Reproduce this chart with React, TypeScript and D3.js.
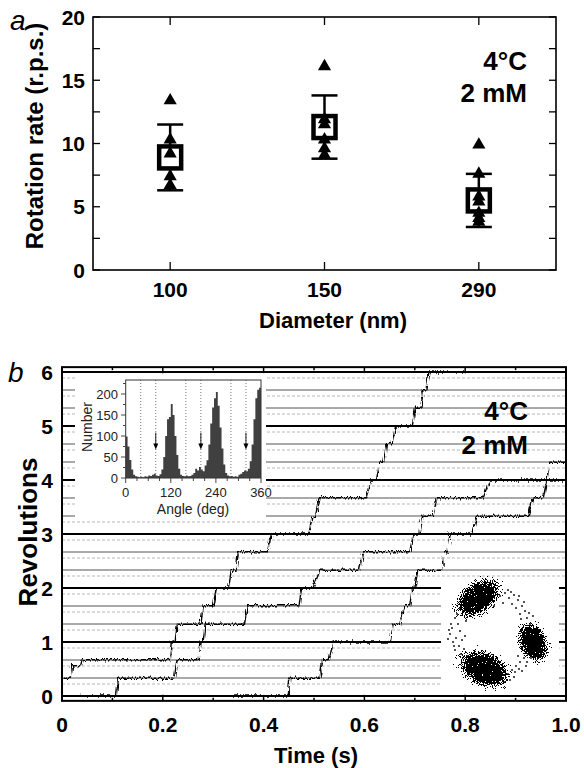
import React from 'react';
import * as d3 from 'd3';

const FONT = "'Liberation Sans', Arial, Helvetica, sans-serif";

// ---- panel a: rotation rate vs bead diameter ----
const diameters = ['100', '150', '290'];
const rateSamples = [
  [13.4, 10.3, 9.2, 7.4, 6.7],
  [16.1, 11.9, 11.5, 10.3, 9.6, 9.1],
  [9.9, 7.6, 5.8, 5.4, 4.5, 4.1, 3.8],
];
const rateMean = [8.9, 11.3, 5.5];
const rateUpper = [11.5, 13.8, 7.6];
const rateLower = [6.3, 8.8, 3.4];
const rateTicks = [0, 5, 10, 15, 20];

// ---- panel b: stepping traces, [time s, revolutions] ----
const traceA: [number, number][] = [
  [0, 0.33], [0.018, 0.33], [0.021, 0.56], [0.037, 0.56], [0.04, 0.67], [0.215, 0.67],
  [0.219, 1.0], [0.224, 1.0], [0.229, 1.33], [0.276, 1.33], [0.28, 1.67], [0.3, 1.67],
  [0.306, 2.0], [0.33, 2.0], [0.336, 2.33], [0.345, 2.33], [0.35, 2.67], [0.408, 2.67],
  [0.415, 3.0], [0.49, 3.0], [0.496, 3.33], [0.503, 3.33], [0.51, 3.67], [0.606, 3.67],
  [0.614, 4.0], [0.624, 4.0], [0.63, 4.33], [0.638, 4.33], [0.644, 4.67], [0.655, 4.67],
  [0.662, 5.0], [0.695, 5.0], [0.701, 5.33], [0.712, 5.33], [0.717, 5.67], [0.722, 5.67],
  [0.728, 6.0], [0.8, 6.0],
];
const traceB: [number, number][] = [
  [0.039, 0], [0.108, 0], [0.112, 0.33], [0.223, 0.33], [0.228, 0.67], [0.272, 0.67],
  [0.276, 1.0], [0.28, 1.0], [0.284, 1.33], [0.362, 1.33], [0.368, 1.67], [0.47, 1.67],
  [0.476, 2.0], [0.498, 2.0], [0.512, 2.33], [0.59, 2.33], [0.597, 2.67], [0.69, 2.67],
  [0.697, 3.0], [0.71, 3.0], [0.716, 3.33], [0.736, 3.33], [0.744, 3.67], [0.835, 3.67],
  [0.849, 4.0], [0.962, 4.0], [0.968, 4.33], [1.0, 4.33],
];
const traceC: [number, number][] = [
  [0.337, 0], [0.449, 0], [0.452, 0.33], [0.512, 0.33], [0.517, 0.67], [0.53, 0.67],
  [0.538, 1.0], [0.651, 1.0], [0.657, 1.33], [0.67, 1.33], [0.68, 1.67], [0.69, 1.67],
  [0.695, 2.0], [0.7, 2.0], [0.706, 2.33], [0.755, 2.33], [0.758, 2.67], [0.764, 2.67],
  [0.77, 3.0], [0.815, 3.0], [0.823, 3.33], [0.925, 3.33], [0.935, 3.67], [0.955, 3.67],
  [0.962, 4.0], [1.0, 4.0],
];
const revTicks = [0, 1, 2, 3, 4, 5, 6];
const timeTicks = [0, 0.2, 0.4, 0.6, 0.8, 1.0];
const lockAngles = [0, 120, 240];
const pauseAngles = [80, 200, 320];

// ---- inset: angle histogram, 5 deg bins ----
const histCounts = [
  99, 75, 43, 20, 8, 4, 3, 2, 3, 2, 4, 3, 6, 5, 8, 10, 6, 5, 9, 20, 50, 100, 140, 145,
  176, 150, 100, 55, 22, 8, 5, 4, 6, 4, 5, 8, 12, 22, 18, 26, 20, 16, 30, 42, 80, 130, 168, 190,
  205, 172, 120, 70, 32, 12, 6, 4, 5, 3, 4, 3, 8, 10, 14, 18, 16, 22, 40, 80, 140, 190, 210, 215,
];
const histGuides = [40, 80, 160, 200, 280, 320];
const angleTicks = [0, 120, 240, 360];
const countTicks = [0, 50, 100, 150, 200];

// ---- inset: x-y scatter of bead position ----
const clusterCx = [-22, 33, -16];
const clusterCy = [38, -6, -33];
const clusterRx = [34, 28, 36];
const clusterRy = [21, 19, 23];
const clusterRot = [36, -67, -25];
const sparsePts: [number, number][] = [
  [-45, 18], [-42, 12], [-48, 8], [-40, 5], [-50, 2], [-44, -2], [-38, -4], [-47, -6], [-41, -10],
  [-36, -13], [-45, -14], [-39, -18], [-33, -20], [-43, 22], [-37, 25], [-34, 15], [-52, -3], [-30, -24],
  [0, 40], [5, 43], [9, 38], [14, 41], [18, 36], [12, 32], [22, 30], [25, 25], [20, 22], [27, 18],
  [8, 46], [16, 28], [24, 34], [3, 33], [8, -38], [12, -34], [16, -30], [20, -26], [24, -22],
  [14, -41], [22, -35], [28, -18], [10, -44], [18, -20], [26, -30], [5, -46], [-6, 30], [30, 12],
  [-49, 12], [-46, -10], [-51, 6], [-35, 0], [11, 44], [19, 40], [29, 23], [21, 17], [15, -36],
  [19, -33], [27, -26], [31, -22], [3, -42], [-28, -28], [-40, 28], [33, 20],
];

export default function App() {
  // panel a
  const ax = d3.scalePoint<string>().domain(diameters).range([93, 556]).padding(0.5);
  const ay = d3.scaleLinear().domain([0, 20]).range([270, 17]);
  const tri = d3.symbol().type(d3.symbolTriangle).size(75)() || '';

  // panel b
  const bx = d3.scaleLinear().domain([0, 1]).range([62, 566]);
  const by = d3.scaleLinear().domain([0, 6]).range([696, 372]);
  const bTop = by(6.09), bBot = by(-0.09);
  const line = d3.line<[number, number]>().x(d => bx(d[0])).y(d => by(d[1]));

  const solidLines: { r: number; major: boolean }[] = [];
  const dashLines: number[] = [];
  for (let n = 0; n <= 6; n++) {
    lockAngles.forEach(a => { const r = n + a / 360; if (r <= 6.01) solidLines.push({ r, major: a === 0 }); });
    pauseAngles.forEach(a => { const r = n + a / 360; if (r < 6.05) dashLines.push(r); });
  }

  // histogram inset
  const hx = d3.scaleLinear().domain([0, 360]).range([125.7, 261]);
  const hy = d3.scaleLinear().domain([0, 200]).range([478, 394]);
  const binW = 360 / histCounts.length;
  const histPts: [number, number][] = histCounts.map((c, i) => [i * binW, c]);
  histPts.push([360, histCounts[histCounts.length - 1]]);
  const histArea = d3.area<[number, number]>().x(d => hx(d[0])).y0(hy(0)).y1(d => hy(d[1])).curve(d3.curveStepAfter);

  // scatter inset
  const sx = d3.scaleLinear().domain([-59, 59]).range([441, 559]);
  const sy = d3.scaleLinear().domain([-57, 57]).range([693, 579]);

  const bold = { fontFamily: FONT, fontWeight: 700 } as const;

  return (
    <svg width={584} height={768} style={{ position: 'absolute', left: 0, top: 0, background: '#fff' }}>
      <defs>
        <filter id="jitter" filterUnits="userSpaceOnUse" x={55} y={355} width={520} height={355} colorInterpolationFilters="sRGB">
          <feTurbulence type="fractalNoise" baseFrequency="0.6 0.08" numOctaves={2} seed={3} result="n" />
          <feDisplacementMap in="SourceGraphic" in2="n" scale={6} xChannelSelector="G" yChannelSelector="R" />
        </filter>
        <filter id="speck" filterUnits="userSpaceOnUse" x={430} y={570} width={140} height={130} colorInterpolationFilters="sRGB">
          <feTurbulence type="fractalNoise" baseFrequency="0.9" numOctaves={2} seed={5} result="noise" />
          <feColorMatrix in="noise" type="matrix" values="0 0 0 0 0  0 0 0 0 0  0 0 0 0 0  1.6 0 0 0 -0.3" result="na" />
          <feComposite in="SourceAlpha" in2="na" operator="arithmetic" k1={0} k2={1} k3={1} k4={-0.6} result="sum" />
          <feComponentTransfer in="sum">
            <feFuncA type="discrete" tableValues="0 1" />
          </feComponentTransfer>
        </filter>
        <radialGradient id="cloud">
          <stop offset="0%" stopColor="#000" stopOpacity={1} />
          <stop offset="45%" stopColor="#000" stopOpacity={0.95} />
          <stop offset="100%" stopColor="#000" stopOpacity={0} />
        </radialGradient>
      </defs>

      {/* ================= panel a ================= */}
      <text x={10} y={30} fontFamily={FONT} fontStyle="italic" fontSize={28}>a</text>
      <rect x={93} y={17} width={463} height={253} fill="none" stroke="#000" strokeWidth={1.6} />
      {d3.range(0, 20.1, 2.5).map(v => (
        <g key={'at' + v}>
          <line x1={93} x2={100} y1={ay(v)} y2={ay(v)} stroke="#000" strokeWidth={1.3} />
          <line x1={556} x2={549} y1={ay(v)} y2={ay(v)} stroke="#000" strokeWidth={1.3} />
        </g>
      ))}
      {rateTicks.map(v => (
        <text key={'al' + v} x={85} y={ay(v) + 7.5} textAnchor="end" fontSize={21} {...bold}>{v}</text>
      ))}
      {diameters.map(d => (
        <g key={'ax' + d}>
          <line x1={ax(d)} x2={ax(d)} y1={17} y2={25} stroke="#000" strokeWidth={1.3} />
          <line x1={ax(d)} x2={ax(d)} y1={270} y2={262} stroke="#000" strokeWidth={1.3} />
          <text x={ax(d)} y={297} textAnchor="middle" fontSize={21} {...bold}>{d}</text>
        </g>
      ))}
      <text transform="translate(43,136) rotate(-90)" textAnchor="middle" fontSize={24} {...bold}>Rotation rate (r.p.s.)</text>
      <text x={333} y={328} textAnchor="middle" fontSize={22} {...bold}>Diameter (nm)</text>
      {diameters.map((d, i) => {
        const cx = ax(d)!;
        return (
          <g key={'grp' + d}>
            <line x1={cx} x2={cx} y1={ay(rateUpper[i])} y2={ay(rateLower[i])} stroke="#000" strokeWidth={2.5} />
            <line x1={cx - 13} x2={cx + 13} y1={ay(rateUpper[i])} y2={ay(rateUpper[i])} stroke="#000" strokeWidth={2.5} />
            <line x1={cx - 13} x2={cx + 13} y1={ay(rateLower[i])} y2={ay(rateLower[i])} stroke="#000" strokeWidth={2.5} />
            <rect x={cx - 11} y={ay(rateMean[i]) - 11} width={22} height={22} fill="#fff" stroke="#000" strokeWidth={4.5} />
            {rateSamples[i].map((v, j) => (
              <path key={j} d={tri} transform={`translate(${cx},${ay(v)})`} fill="#000" />
            ))}
          </g>
        );
      })}
      <text x={527} y={70} textAnchor="end" fontSize={26} {...bold}>4°C</text>
      <text x={527} y={102} textAnchor="end" fontSize={26} {...bold}>2 mM</text>

      {/* ================= panel b ================= */}
      <text x={8} y={382} fontFamily={FONT} fontStyle="italic" fontSize={28}>b</text>
      {dashLines.map(r => (
        <line key={'d' + r} x1={62} x2={566} y1={by(r)} y2={by(r)} stroke="#b8b8b8" strokeWidth={1} strokeDasharray="3 2" />
      ))}
      {solidLines.map(l => (
        <line key={'s' + l.r} x1={62} x2={566} y1={by(l.r)} y2={by(l.r)}
          stroke={l.major ? '#000' : '#8c8c8c'} strokeWidth={l.major ? 1.8 : 1.6} />
      ))}
      {/* inset backgrounds */}
      <rect x={75} y={376} width={191} height={143} fill="#fff" />
      <rect x={441} y={579} width={118} height={114} fill="#fff" />

      <g filter="url(#jitter)" fill="none" stroke="#000" strokeWidth={1.4}>
        {[traceA, traceB, traceC].map((t, i) => <path key={i} d={line(t) || ''} />)}
      </g>

      <rect x={62} y={bTop} width={504} height={bBot - bTop} fill="none" stroke="#000" strokeWidth={2} />
      {d3.range(0.1, 1, 0.1).map(t => {
        const major = Math.round(t * 10) % 2 === 0;
        const len = major ? 6 : 3;
        return (
          <g key={'bt' + t}>
            <line x1={bx(t)} x2={bx(t)} y1={bTop} y2={bTop + len} stroke="#000" strokeWidth={1.5} />
            <line x1={bx(t)} x2={bx(t)} y1={bBot} y2={bBot - len} stroke="#000" strokeWidth={1.5} />
          </g>
        );
      })}
      {timeTicks.map(t => (
        <text key={'bl' + t} x={bx(t)} y={732} textAnchor="middle" fontSize={21} {...bold}>{t === 0 ? '0' : t.toFixed(1)}</text>
      ))}
      {revTicks.map(r => (
        <text key={'br' + r} x={53} y={by(r) + 7.5} textAnchor="end" fontSize={21} {...bold}>{r}</text>
      ))}
      <text transform="translate(37,532) rotate(-90)" textAnchor="middle" fontSize={26} {...bold}>Revolutions</text>
      <text x={316} y={763} textAnchor="middle" fontSize={22} {...bold}>Time (s)</text>
      <text x={528} y={420} textAnchor="end" fontSize={26} {...bold}>4°C</text>
      <text x={528} y={454} textAnchor="end" fontSize={26} {...bold}>2 mM</text>

      {/* histogram inset */}
      <g>
        <path d={histArea(histPts) || ''} fill="#404040" />
        {histGuides.map(a => (
          <line key={'g' + a} x1={hx(a)} x2={hx(a)} y1={380} y2={478} stroke="#555" strokeWidth={0.8} strokeDasharray="1 2" />
        ))}
        {pauseAngles.map(a => (
          <g key={'ar' + a}>
            <line x1={hx(a)} x2={hx(a)} y1={hy(108)} y2={hy(80)} stroke="#000" strokeWidth={0.9} />
            <path d={`M${hx(a) - 2.5},${hy(82)} L${hx(a) + 2.5},${hy(82)} L${hx(a)},${hy(68)} Z`} fill="#000" />
          </g>
        ))}
        <rect x={125.7} y={380} width={135.3} height={98} fill="none" stroke="#333" strokeWidth={1} />
        {d3.range(0, 360.1, 30).map(a => (
          <line key={'hxt' + a} x1={hx(a)} x2={hx(a)} y1={478} y2={a % 120 === 0 ? 483 : 481} stroke="#333" strokeWidth={0.9} />
        ))}
        {d3.range(0, 226, 25).map(c => (
          <line key={'hyt' + c} x1={125.7} x2={c % 50 === 0 ? 121 : 123} y1={hy(c)} y2={hy(c)} stroke="#333" strokeWidth={0.9} />
        ))}
        {angleTicks.map(a => (
          <text key={'hl' + a} x={hx(a)} y={497} textAnchor="middle" fontFamily={FONT} fontSize={13} fill="#222">{a}</text>
        ))}
        {countTicks.map(c => (
          <text key={'hc' + c} x={118} y={hy(c) + 4.5} textAnchor="end" fontFamily={FONT} fontSize={13} fill="#222">{c}</text>
        ))}
        <text transform="translate(92,427) rotate(-90)" textAnchor="middle" fontFamily={FONT} fontSize={14} fill="#222">Number</text>
        <text x={193} y={514} textAnchor="middle" fontFamily={FONT} fontSize={14} fill="#222">Angle (deg)</text>
      </g>

      {/* scatter inset */}
      <g filter="url(#speck)">
        {clusterCx.map((cx, i) => (
          <ellipse key={'c' + i} cx={0} cy={0} rx={sx(clusterRx[i]) - sx(0)} ry={sx(clusterRy[i]) - sx(0)}
            transform={`translate(${sx(cx)},${sy(clusterCy[i])}) rotate(${-clusterRot[i]})`} fill="url(#cloud)" />
        ))}
      </g>
      {sparsePts.map((p, i) => (
        <circle key={'p' + i} cx={sx(p[0])} cy={sy(p[1])} r={0.9} fill="#000" />
      ))}
    </svg>
  );
}
